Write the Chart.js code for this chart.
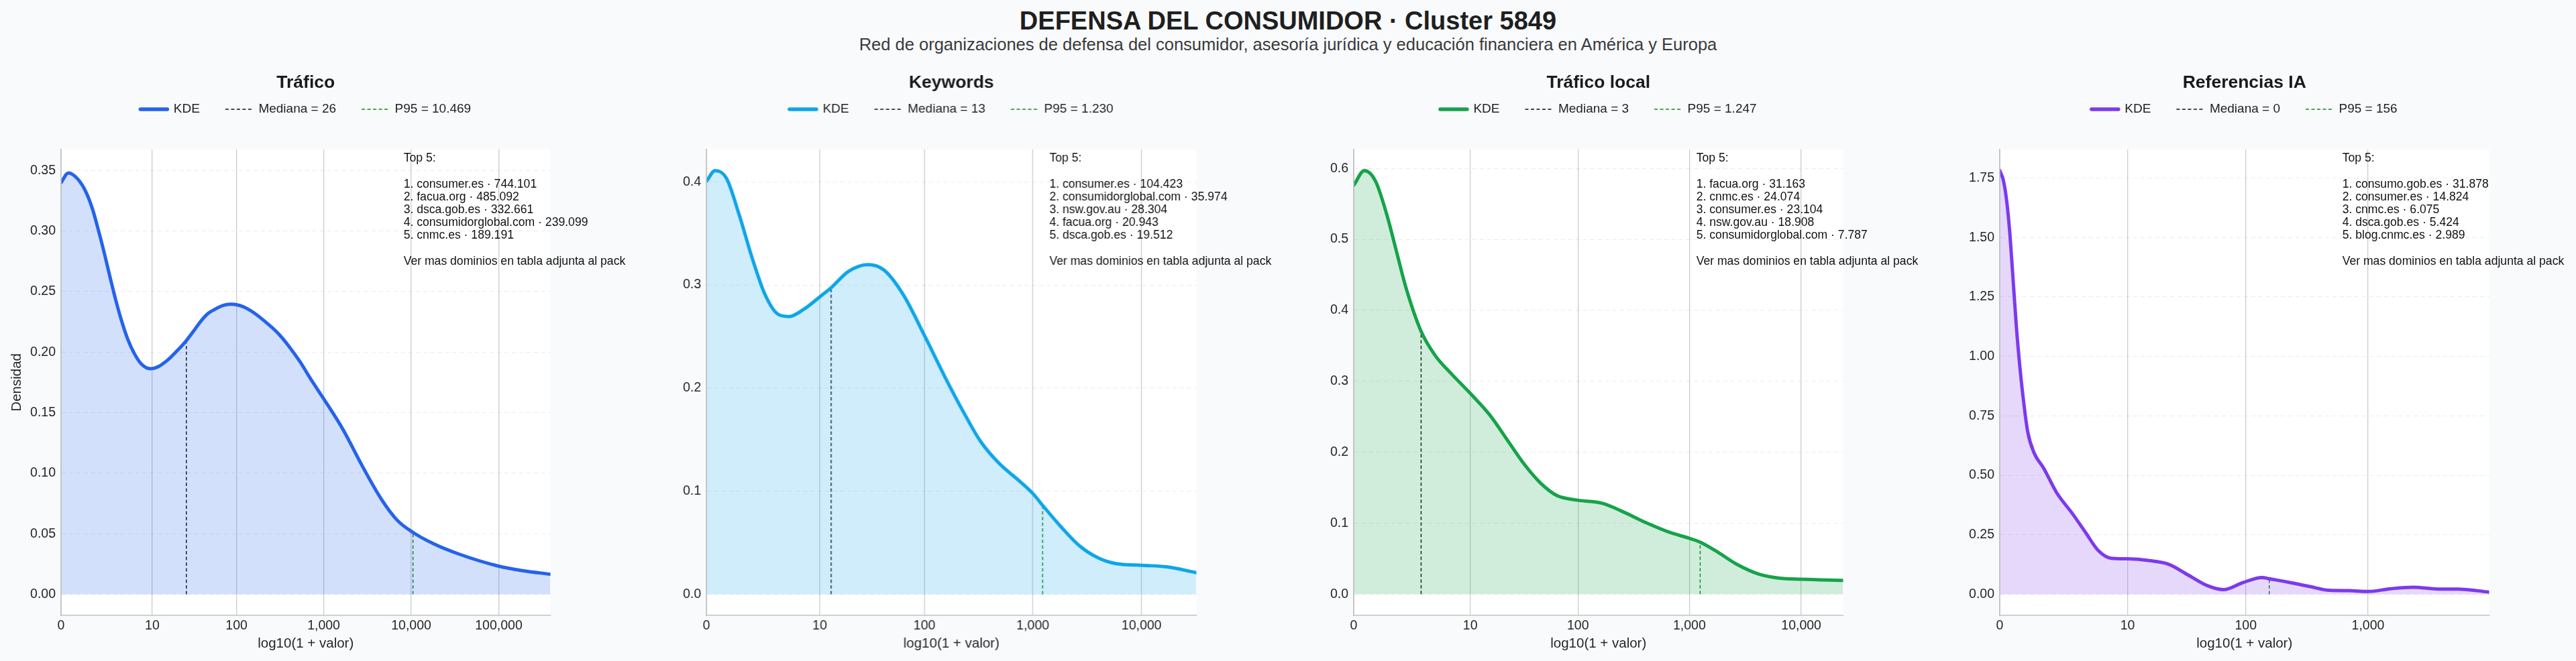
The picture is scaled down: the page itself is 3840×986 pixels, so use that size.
<!DOCTYPE html>
<html lang="es">
<head>
<meta charset="utf-8">
<title>DEFENSA DEL CONSUMIDOR · Cluster 5849</title>
<script src="https://cdn.jsdelivr.net/npm/chart.js@4.4.1/dist/chart.umd.min.js"></script>
<style>
    body { margin: 0; background: #f8fafc; font-family: 'Liberation Sans', Arial, sans-serif; }
    #page { position: relative; width: 3840px; height: 986px; overflow: hidden; }
    #title { position: absolute; left: 0; top: 12px; width: 3840px; text-align: center;
             font-weight: bold; font-size: 38px; line-height: 38px; color: #1f1f1f; }
    #subtitle { position: absolute; left: 0; top: 54px; width: 3840px; text-align: center;
                font-size: 25.5px; line-height: 25.5px; color: #3a3a3a; }
    .panel { position: absolute; top: 90px; width: 949.5px; height: 896px; }
</style>
</head>
<body>
<div id="page">
    <div id="title">DEFENSA DEL CONSUMIDOR · Cluster 5849</div>
    <div id="subtitle">Red de organizaciones de defensa del consumidor, asesoría jurídica y educación financiera en América y Europa</div>
    <div class="panel" id="box0"><canvas id="panel0"></canvas></div>
    <div class="panel" id="box1"><canvas id="panel1"></canvas></div>
    <div class="panel" id="box2"><canvas id="panel2"></canvas></div>
    <div class="panel" id="box3"><canvas id="panel3"></canvas></div>
</div>

<script>
// Data //
// x = log10(1 + valor), y = densidad

var traficoX = [0, 0.084, 0.19, 0.286, 0.36, 0.433, 0.5, 0.561, 0.625, 0.689, 0.76, 0.836, 0.92, 1.019, 1.11, 1.203, 1.31, 1.43, 1.52, 1.606, 1.68, 1.753, 1.85, 1.936, 2.004, 2.09, 2.218, 2.346, 2.474, 2.602, 2.73, 2.857, 3.0, 3.22, 3.44, 3.66, 3.843, 4.015, 4.246, 4.54, 4.998, 5.273, 5.59];
var traficoY = [0.340, 0.348, 0.343, 0.332, 0.318, 0.299, 0.280, 0.2615, 0.243, 0.2264, 0.211, 0.199, 0.190, 0.1863, 0.188, 0.1926, 0.200, 0.2094, 0.218, 0.2264, 0.232, 0.2352, 0.2385, 0.2396, 0.2392, 0.2372, 0.2317, 0.2243, 0.2159, 0.2049, 0.192, 0.1772, 0.1615, 0.1362, 0.1061, 0.0785, 0.061, 0.0514, 0.0421, 0.0334, 0.0233, 0.0196, 0.0166];

var keywordsX = [0, 0.08, 0.183, 0.301, 0.419, 0.5375, 0.656, 0.759, 0.892, 1.048, 1.152, 1.305, 1.4826, 1.63, 1.807, 2.011, 2.191, 2.369, 2.516, 2.693, 2.871, 3.006, 3.098, 3.255, 3.432, 3.609, 3.757, 4.008, 4.229, 4.504];
var keywordsY = [0.4006, 0.411, 0.4036, 0.368, 0.3266, 0.291, 0.2718, 0.2694, 0.2762, 0.289, 0.2979, 0.3132, 0.3198, 0.3147, 0.291, 0.2496, 0.2111, 0.1756, 0.1489, 0.1267, 0.1104, 0.0971, 0.0853, 0.066, 0.0468, 0.0349, 0.0299, 0.0281, 0.0266, 0.021];

var localX = [0, 0.095, 0.195, 0.296, 0.382, 0.468, 0.6, 0.726, 0.87, 1.042, 1.214, 1.386, 1.53, 1.673, 1.817, 2.003, 2.219, 2.391, 2.621, 2.821, 3.002, 3.1, 3.252, 3.424, 3.625, 3.797, 4.001, 4.374];
var localY = [0.5763, 0.597, 0.582, 0.5346, 0.483, 0.4314, 0.3712, 0.3368, 0.311, 0.283, 0.2529, 0.2142, 0.1819, 0.1561, 0.1389, 0.1325, 0.1282, 0.1174, 0.1002, 0.0873, 0.0787, 0.0731, 0.0594, 0.0421, 0.028, 0.0228, 0.0211, 0.0194];

var iaX = [0, 0.031, 0.058, 0.084, 0.11, 0.136, 0.162, 0.188, 0.2275, 0.28, 0.358, 0.463, 0.594, 0.698, 0.803, 0.907, 1.041, 1.221, 1.378, 1.535, 1.692, 1.823, 1.98, 2.137, 2.191, 2.346, 2.529, 2.686, 2.843, 3.0, 3.183, 3.366, 3.575, 3.732, 3.987];
var iaY = [1.782, 1.737, 1.647, 1.506, 1.313, 1.121, 0.967, 0.838, 0.684, 0.594, 0.530, 0.4275, 0.3377, 0.2606, 0.1836, 0.1515, 0.1489, 0.1412, 0.1258, 0.0809, 0.0359, 0.0193, 0.0488, 0.0706, 0.0655, 0.0514, 0.0321, 0.0167, 0.0154, 0.0116, 0.0231, 0.0295, 0.0218, 0.0218, 0.009];

var panelTitles = ['Tráfico', 'Keywords', 'Tráfico local', 'Referencias IA'];
var kdeColors = ['#2563eb', '#0ea5e9', '#16a34a', '#7c3aed'];
var fillColors = ['rgba(37,99,235,0.2)', 'rgba(14,165,233,0.2)', 'rgba(22,163,74,0.2)', 'rgba(124,58,237,0.2)'];

var medianas = [26, 13, 3, 0];
var medianaDens = [0.2094, 0.2979, 0.3712, 1.76];
var p95s = [10469, 1230, 1247, 156];
var p95Dens = [0.0514, 0.0853, 0.0731, 0.0655];

var xTickValues = [0, 10, 100, 1000, 10000, 100000];
var xTickLabels = ['0', '10', '100', '1,000', '10,000', '100,000'];
var xMax = [5.59, 4.504, 4.374, 3.987];

var yTicks = [
    [0, 0.05, 0.10, 0.15, 0.20, 0.25, 0.30, 0.35],
    [0, 0.1, 0.2, 0.3, 0.4],
    [0, 0.1, 0.2, 0.3, 0.4, 0.5, 0.6],
    [0, 0.25, 0.50, 0.75, 1.00, 1.25, 1.50, 1.75]
];
var yDecimals = [2, 1, 1, 2];
var yMin = [-0.0174, -0.0205, -0.0299, -0.089];
var yMax = [0.3675, 0.4316, 0.627, 1.871];

var top5 = [
    ['consumer.es · 744.101', 'facua.org · 485.092', 'dsca.gob.es · 332.661', 'consumidorglobal.com · 239.099', 'cnmc.es · 189.191'],
    ['consumer.es · 104.423', 'consumidorglobal.com · 35.974', 'nsw.gov.au · 28.304', 'facua.org · 20.943', 'dsca.gob.es · 19.512'],
    ['facua.org · 31.163', 'cnmc.es · 24.074', 'consumer.es · 23.104', 'nsw.gov.au · 18.908', 'consumidorglobal.com · 7.787'],
    ['consumo.gob.es · 31.878', 'consumer.es · 14.824', 'cnmc.es · 6.075', 'dsca.gob.es · 5.424', 'blog.cnmc.es · 2.989']
];

var seriesX = [traficoX, keywordsX, localX, iaX];
var seriesY = [traficoY, keywordsY, localY, iaY];

// Layout //
var axesLeft = [90.5, 1053.4, 2017.9, 2980.8];
var yAxisWidth = 90;

Chart.defaults.font.family = "'Liberation Sans', Arial, sans-serif";
Chart.defaults.color = '#222';

function fmtEs(n) {
    return n.toLocaleString('en-US').replace(/,/g, '.');
}

var whiteArea = {
    id: 'whiteArea',
    beforeDraw: function (chart) {
        var a = chart.chartArea;
        chart.ctx.save();
        chart.ctx.fillStyle = '#ffffff';
        chart.ctx.fillRect(a.left, a.top, a.right - a.left, a.bottom - a.top);
        chart.ctx.restore();
    }
};

function top5Text(items) {
    return {
        id: 'top5Text',
        afterDraw: function (chart) {
            var a = chart.chartArea;
            var c = chart.ctx;
            var lines = ['Top 5:', ''];
            items.forEach(function (t, k) { lines.push((k + 1) + '. ' + t); });
            lines.push('', 'Ver mas dominios en tabla adjunta al pack');
            c.save();
            c.font = "17.6px 'Liberation Sans', Arial, sans-serif";
            c.fillStyle = '#111';
            c.textAlign = 'left';
            c.textBaseline = 'middle';
            lines.forEach(function (s, k) {
                c.fillText(s, a.left + 0.70 * (a.right - a.left), a.top + 13.7 + k * 19.2);
            });
            c.restore();
        }
    };
}

function makePanel(i) {
    var box = document.getElementById('box' + i);
    box.style.left = (axesLeft[i] - yAxisWidth) + 'px';

    var xTicks = [];
    var xLabels = [];
    xTickValues.forEach(function (v, k) {
        var pos = Math.log10(1 + v);
        if (pos <= xMax[i]) { xTicks.push(pos); xLabels.push(xTickLabels[k]); }
    });

    var mx = Math.log10(1 + medianas[i]);
    var px = Math.log10(1 + p95s[i]);

    var ctx = document.getElementById('panel' + i).getContext('2d');
    return new Chart(ctx, {
        type: 'line',
        data: {
            datasets: [
                {
                    label: 'KDE',
                    data: seriesX[i].map(function (x, k) { return {x: x, y: seriesY[i][k]}; }),
                    borderColor: kdeColors[i],
                    backgroundColor: fillColors[i],
                    borderWidth: 5,
                    borderCapStyle: 'round',
                    borderJoinStyle: 'round',
                    cubicInterpolationMode: 'monotone',
                    pointRadius: 0,
                    fill: 'origin',
                },
                {
                    label: 'Mediana = ' + fmtEs(medianas[i]),
                    data: [{x: mx, y: 0}, {x: mx, y: medianaDens[i]}],
                    borderColor: '#111111',
                    borderWidth: 1.5,
                    borderDash: [5, 3.5],
                    pointRadius: 0,
                    fill: false,
                    clip: -1,   // hidden under the spine when it sits on x = 0
                },
                {
                    label: 'P95 = ' + fmtEs(p95s[i]),
                    data: [{x: px, y: 0}, {x: px, y: p95Dens[i]}],
                    borderColor: '#108a10',
                    borderWidth: 1.5,
                    borderDash: [5, 3.5],
                    pointRadius: 0,
                    fill: false,
                    clip: -1,
                },
            ],
        },
        options: {
            responsive: true,
            maintainAspectRatio: false,
            animation: false,
            layout: {
                padding: {left: 0, right: 130, top: 0, bottom: 0}
            },
            scales: {
                x: {
                    type: 'linear',
                    min: 0,
                    max: xMax[i],
                    afterBuildTicks: function (s) { s.ticks = xTicks.map(function (v) { return {value: v}; }); },
                    afterFit: function (s) { s.height = 68; },
                    grid: {
                        color: 'rgba(0,0,0,0.2)',
                        lineWidth: 1.3,
                        drawTicks: false,
                    },
                    border: {display: true, color: '#c2c2c2', width: 1.6, z: 1},
                    ticks: {
                        autoSkip: false,
                        maxRotation: 0,
                        padding: 4,
                        color: '#262626',
                        font: {size: 19.5},
                        callback: function (v, idx) { return xLabels[idx]; },
                    },
                    title: {
                        display: true,
                        text: 'log10(1 + valor)',
                        color: '#262626',
                        font: {size: 20.5},
                        padding: {top: 0, bottom: 13.7},
                    },
                },
                y: {
                    min: yMin[i],
                    max: yMax[i],
                    afterBuildTicks: function (s) { s.ticks = yTicks[i].map(function (v) { return {value: v}; }); },
                    afterFit: function (s) { s.width = yAxisWidth; },
                    grid: {
                        color: 'rgba(0,0,0,0.08)',
                        lineWidth: 1,
                        drawTicks: false,
                    },
                    border: {display: true, color: '#c2c2c2', width: 1.8, dash: [6, 5], z: 1},
                    ticks: {
                        padding: 8,
                        color: '#262626',
                        font: {size: 19.5},
                        callback: function (v) { return v.toFixed(yDecimals[i]); },
                    },
                    title: {
                        display: i === 0,
                        text: 'Densidad',
                        color: '#262626',
                        font: {size: 20.5},
                        padding: {top: 11.9, bottom: 0},
                    },
                },
            },
            plugins: {
                title: {
                    display: true,
                    text: panelTitles[i],
                    fullSize: false,
                    color: '#1a1a1a',
                    font: {size: 26.5, weight: 'bold'},
                    padding: {top: 17.4, bottom: -23.7},
                },
                // empty spacer between legend and plot
                subtitle: {
                    display: true,
                    text: '',
                    fullSize: false,
                    weight: 500,
                    font: {size: 1},
                    padding: {top: 39, bottom: 0},
                },
                legend: {
                    fullSize: false,
                    labels: {
                        usePointStyle: true,
                        pointStyleWidth: 40,
                        padding: 38,
                        color: '#222',
                        font: {size: 19},
                        generateLabels: function (chart) {
                            return chart.data.datasets.map(function (ds, k) {
                                return {
                                    text: ds.label,
                                    datasetIndex: k,
                                    hidden: false,
                                    strokeStyle: ds.borderColor,
                                    fillStyle: ds.borderColor,
                                    lineWidth: k === 0 ? 5.5 : 1.5,
                                    lineDash: ds.borderDash || [],
                                    lineCap: k === 0 ? 'round' : 'butt',
                                    pointStyle: 'line',
                                    fontColor: '#222',
                                };
                            });
                        },
                    },
                },
                tooltip: {enabled: false},
            },
        },
        plugins: [whiteArea, top5Text(top5[i])],
    });
}

var charts = [0, 1, 2, 3].map(makePanel);
</script>
</body>
</html>
